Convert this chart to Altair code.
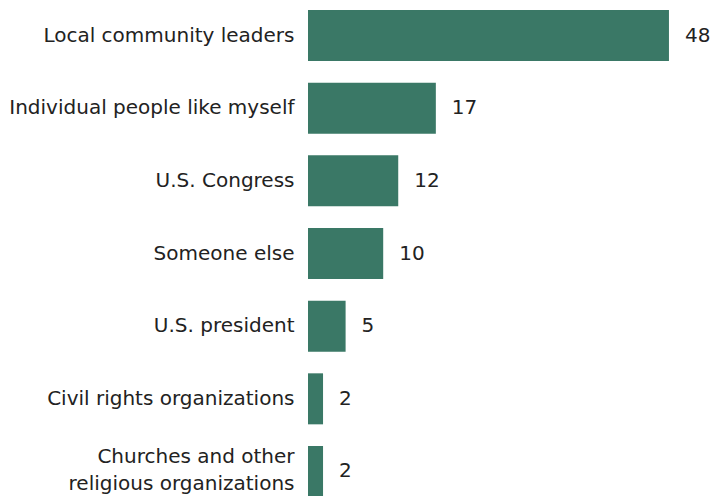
import altair as alt
import pandas as pd

categories = [
    "Local community leaders",
    "Individual people like myself",
    "U.S. Congress",
    "Someone else",
    "U.S. president",
    "Civil rights organizations",
    "Churches and other|religious organizations",
]
values = [48, 17, 12, 10, 5, 2, 2]

df = pd.DataFrame({"category": categories, "value": values})

FONT = "DejaVu Sans"
FS = 20

y = alt.Y(
    "category:N",
    sort=categories,
    scale=alt.Scale(paddingInner=0.298, paddingOuter=0.0275, round=False, range=[0, 491]),
    axis=alt.Axis(
        title=None,
        domain=False,
        ticks=False,
        labelFont=FONT,
        labelFontSize=FS,
        labelColor="#222222",
        labelPadding=14,
        labelLimit=400,
        labelLineHeight=27,
        labelExpr="split(datum.label, '|')",
        labelOffset={"condition": {"test": "indexof(datum.value, '|') >= 0", "value": -14}, "value": 0},
    ),
)
x = alt.X("value:Q", scale=alt.Scale(domain=[0, 50]), axis=None)

bars = alt.Chart(df).mark_bar(color="#3a7866").encode(x=x, y=y)
text = alt.Chart(df).mark_text(
    align="left", baseline="middle", dx=16, font=FONT, fontSize=FS, color="#222222"
).encode(x=x, y=y, text="value:Q")

chart = (
    (bars + text)
    .properties(
        width=376,
        height=488,
        autosize=alt.AutoSizeParams(type="none"),
        padding={"left": 300, "top": 0, "right": 27, "bottom": 0},
    )
    .configure_view(stroke=None)
)
chart.save("out.html", embed_options={"renderer": "svg", "actions": False})
